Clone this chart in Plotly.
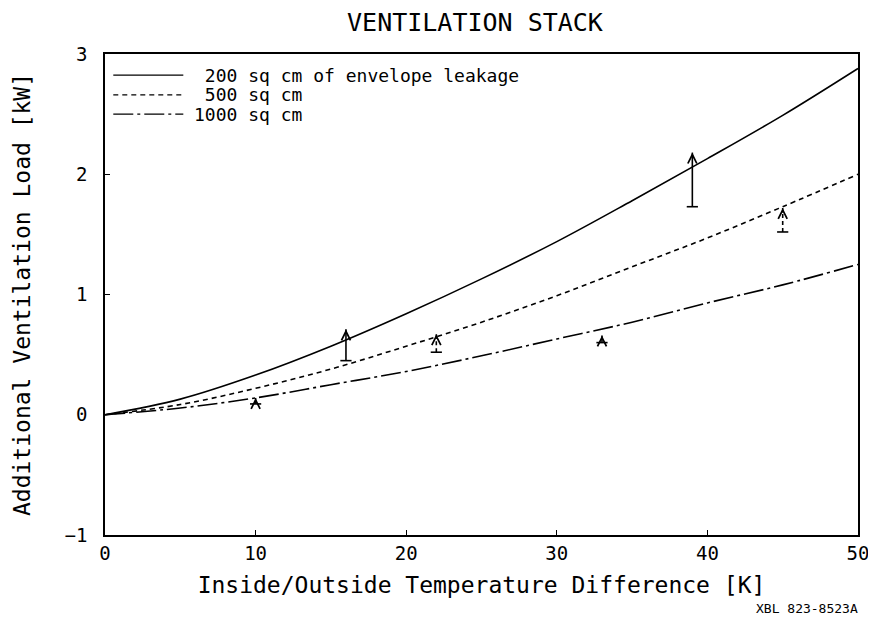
import plotly.graph_objects as go

# temperature difference [K]
dt = [0, 5, 10, 15, 20, 25, 30, 35, 40, 45, 50]

# additional ventilation load [kW] for each leakage area
load_200 = [0, 0.13, 0.33, 0.57, 0.84, 1.13, 1.44, 1.78, 2.13, 2.49, 2.88]
load_500 = [0, 0.085, 0.22, 0.38, 0.57, 0.77, 0.99, 1.23, 1.47, 1.73, 2.0]
load_1000 = [0, 0.056, 0.14, 0.25, 0.36, 0.49, 0.63, 0.77, 0.93, 1.08, 1.25]

# measured shifts (arrows): x, base, tip
arrow_200_x = [16, 39]
arrow_200_lo = [0.45, 1.73]
arrow_200_hi = [0.71, 2.18]
arrow_500_x = [22, 45]
arrow_500_lo = [0.52, 1.52]
arrow_500_hi = [0.67, 1.72]
arrow_1000_x = [10, 33]
arrow_1000_lo = [0.09, 0.60]
arrow_1000_hi = [0.14, 0.66]

legend_labels = ["\u00a0200 sq cm of envelope leakage", "\u00a0500 sq cm", "1000 sq cm"]

FONT = "DejaVu Sans Mono"
dash_500 = "5px,4px"
dash_1000 = "20px,4px,3px,4px"

fig = go.Figure()

series = [(load_200, "solid"), (load_500, dash_500), (load_1000, dash_1000)]
for (ys, dash), name in zip(series, legend_labels):
    fig.add_trace(go.Scatter(
        x=dt, y=ys, mode="lines", name=name.strip(), showlegend=False,
        line=dict(color="black", width=1.6, dash=dash, shape="spline"),
    ))

arrows = [
    (arrow_200_x, arrow_200_lo, arrow_200_hi, "solid"),
    (arrow_500_x, arrow_500_lo, arrow_500_hi, "4px,3px"),
    (arrow_1000_x, arrow_1000_lo, arrow_1000_hi, "solid"),
]
for xs, lo, hi, dash in arrows:
    for x, y0, y1 in zip(xs, lo, hi):
        fig.add_trace(go.Scatter(
            x=[x, x], y=[y0, y1], mode="lines", showlegend=False,
            line=dict(color="black", width=1.6, dash=dash),
        ))
        fig.add_trace(go.Scatter(
            x=[x], y=[y0], mode="markers", showlegend=False,
            marker=dict(symbol="line-ew", size=8, line=dict(color="black", width=1.6)),
        ))
        fig.add_annotation(
            x=x, y=y1, ax=0, ay=6, xref="x", yref="y",
            showarrow=True, arrowhead=5, arrowsize=1.1, arrowwidth=1.6,
            arrowcolor="black", text="",
        )

# legend box contents drawn by hand (line samples + labels)
legend_rows = [0.956, 0.915, 0.875]
for yrow, (ys, dash), label in zip(legend_rows, series, legend_labels):
    fig.add_shape(type="line", xref="paper", yref="paper",
                  x0=0.011, x1=0.104, y0=yrow, y1=yrow,
                  line=dict(color="black", width=1.4, dash=dash))
    fig.add_annotation(text=label, xref="paper", yref="paper",
                       x=0.116, y=yrow, xanchor="left", yanchor="middle",
                       showarrow=False, font=dict(family=FONT, size=18, color="black"))

fig.add_annotation(
    text="XBL 823-8523A", xref="paper", yref="paper",
    x=1.003, y=-0.152, xanchor="right", yanchor="middle", showarrow=False,
    font=dict(family=FONT, size=13, color="black"),
)

# page body has an 8px margin, so the figure is shrunk by that much
fig.update_layout(
    width=868, height=617,
    paper_bgcolor="white", plot_bgcolor="white",
    margin=dict(l=97, r=18, t=46, b=90),
    title=dict(text="VENTILATION STACK", x=0.538, xanchor="center",
               y=0.977, yanchor="middle",
               font=dict(family=FONT, size=25, color="black")),
    font=dict(family=FONT, color="black"),
    showlegend=False,
)

fig.update_xaxes(
    range=[0, 50], tickvals=[0, 10, 20, 30, 40, 50],
    showline=True, linecolor="black", linewidth=1.5, mirror=True,
    ticks="inside", ticklen=5, tickcolor="black", showgrid=False, zeroline=False,
    tickfont=dict(family=FONT, size=19), ticklabelstandoff=0, automargin=False,
    title=dict(text="Inside/Outside Temperature Difference [K]",
               font=dict(family=FONT, size=23), standoff=14),
)
fig.update_yaxes(
    range=[-1, 3], tickvals=[-1, 0, 1, 2, 3],
    showline=True, linecolor="black", linewidth=1.5, mirror=True,
    ticks="inside", ticklen=5, tickcolor="black", showgrid=False, zeroline=False,
    tickfont=dict(family=FONT, size=19), ticklabelstandoff=12, automargin=False,
    title=dict(text="Additional Ventilation Load [kW]",
               font=dict(family=FONT, size=23), standoff=28),
)

fig.write_html("out.html")
